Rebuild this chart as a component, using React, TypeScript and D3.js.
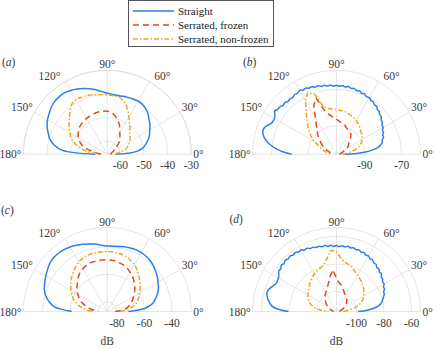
import React from 'react';
import * as d3 from 'd3';

// angle grids (degrees)
const anglesCoarse = [0,5,10,15,20,25,30,35,40,45,50,55,60,65,70,75,80,85,90,95,100,105,110,115,120,125,130,135,140,145,150,155,160,165,170,175,180];
const anglesFine = [0,2.5,5,7.5,10,12.5,15,17.5,20,22.5,25,27.5,30,32.5,35,37.5,40,42.5,45,47.5,50,52.5,55,57.5,60,62.5,65,67.5,70,72.5,75,77.5,80,82.5,85,87.5,90,92.5,95,97.5,100,102.5,105,107.5,110,112.5,115,117.5,120,122.5,125,127.5,130,132.5,135,137.5,140,142.5,145,147.5,150,152.5,155,157.5,160,162.5,165,167.5,170,172.5,175,177.5,180];
const thetaTicks = [0, 30, 60, 90, 120, 150, 180];

// (a)
const straightA = [-62.1,-53.7,-50.3,-48.6,-47.1,-45.8,-44.8,-43.5,-42.5,-41.2,-40.3,-39.7,-39.5,-39.7,-39.9,-40.1,-40.3,-40.1,-39.7,-38.9,-37.8,-36.8,-35.9,-35.1,-34.4,-33.8,-33.8,-34.0,-34.6,-35.5,-36.3,-37.4,-38.9,-40.3,-42.7,-46.5,-60.4];
const frozenA = [-64.2,-64.0,-63.8,-63.6,-63.4,-63.0,-62.1,-61.3,-60.0,-58.5,-57.3,-56.2,-54.9,-53.0,-51.3,-49.9,-48.6,-47.7,-47.3,-47.2,-47.2,-47.3,-47.5,-47.7,-48.0,-48.2,-48.6,-49.0,-49.7,-50.5,-51.3,-52.6,-54.1,-56.4,-59.4,-61.7,-63.4];
const nonFrozenA = [-62.1,-61.7,-60.0,-57.7,-56.4,-55.4,-54.5,-53.7,-53.0,-52.0,-50.7,-49.2,-47.3,-45.0,-42.9,-41.4,-40.8,-40.6,-40.4,-40.2,-39.9,-39.5,-39.2,-39.0,-38.9,-39.5,-41.2,-42.9,-44.4,-45.8,-47.3,-48.5,-50.3,-52.8,-55.6,-59.6,-62.1];
const ticksA = [-60, -50, -40, -30];

// (b)
const straightB = [-101.1,-94.6,-89.1,-84.8,-82.1,-80.7,-79.6,-79.4,-78.2,-78.2,-77.2,-77.2,-76.1,-76.1,-75.0,-74.8,-73.6,-73.6,-72.5,-72.5,-71.4,-71.5,-70.6,-70.7,-69.8,-70.1,-69.2,-69.5,-68.7,-69.0,-68.3,-68.7,-68.0,-68.5,-67.9,-68.4,-67.9,-68.3,-67.6,-68.0,-67.3,-67.6,-66.8,-67.1,-66.3,-66.5,-65.7,-66.0,-65.2,-66.0,-65.7,-66.4,-66.0,-66.4,-65.7,-66.0,-65.2,-65.2,-64.3,-65.7,-66.5,-66.5,-66.0,-64.6,-63.5,-63.4,-64.1,-65.4,-67.3,-69.8,-72.8,-76.6,-81.0];
const frozenB = [-103.9,-103.6,-103.3,-102.8,-101.7,-100.6,-99.0,-97.6,-96.8,-95.4,-93.5,-91.9,-91.3,-90.8,-90.0,-88.6,-88.3,-87.5,-86.4,-85.3,-83.7,-81.0,-72.8,-76.1,-82.6,-86.4,-89.1,-91.3,-93.5,-95.4,-97.3,-99.0,-100.6,-101.7,-102.8,-103.3,-103.9];
const nonFrozenB = [-102.2,-100.0,-97.3,-94.3,-92.1,-90.5,-89.4,-88.6,-87.8,-87.0,-85.9,-85.1,-84.0,-83.4,-82.9,-82.3,-81.5,-81.5,-81.2,-80.7,-80.1,-78.8,-70.6,-68.4,-71.7,-76.6,-80.4,-83.4,-86.1,-88.6,-91.6,-94.6,-96.8,-98.7,-100.6,-101.7,-102.8];
const ticksB = [-90, -70];

// (c)
const straightC = [-71.8,-59.4,-53.6,-50.7,-48.1,-46.0,-44.5,-42.7,-41.3,-39.8,-38.7,-38.0,-37.6,-37.6,-38.0,-38.3,-39.1,-39.4,-39.4,-38.7,-37.3,-36.2,-35.1,-34.0,-32.9,-32.2,-31.8,-31.8,-32.5,-34.0,-35.4,-36.9,-38.3,-40.5,-43.8,-48.5,-61.2];
const frozenC = [-81.2,-76.1,-72.8,-70.3,-68.5,-66.7,-64.9,-63.0,-60.9,-59.4,-57.2,-55.4,-54.0,-52.5,-51.4,-50.7,-50.0,-49.6,-49.6,-49.5,-49.4,-49.5,-49.6,-50.3,-51.3,-52.5,-54.3,-56.5,-58.3,-60.1,-62.3,-64.5,-67.0,-70.3,-73.9,-77.2,-80.5];
const nonFrozenC = [-77.6,-72.5,-68.8,-65.6,-63.4,-61.6,-60.1,-58.0,-55.8,-54.0,-51.8,-49.6,-47.8,-46.3,-44.9,-44.2,-43.8,-43.4,-43.4,-43.4,-43.4,-43.4,-43.8,-44.5,-45.6,-47.1,-48.9,-50.7,-52.5,-54.7,-56.5,-58.7,-60.9,-63.8,-67.0,-71.0,-76.8];
const ticksC = [-80, -60, -40];

// (d)
const straightD = [-98.9,-92.0,-87.3,-84.0,-81.8,-80.6,-79.6,-78.7,-77.5,-77.5,-76.0,-76.0,-74.6,-74.8,-73.5,-73.5,-72.0,-72.2,-70.9,-71.2,-69.8,-70.0,-68.8,-69.1,-68.0,-68.4,-67.3,-67.8,-66.9,-67.4,-66.6,-67.2,-66.4,-67.2,-66.5,-67.3,-66.6,-67.2,-66.2,-66.8,-65.8,-66.4,-65.5,-65.8,-64.8,-65.0,-63.8,-64.1,-62.9,-63.3,-62.2,-62.8,-61.9,-62.6,-61.9,-62.8,-62.2,-63.5,-63.3,-64.8,-65.8,-66.2,-66.2,-65.1,-63.7,-62.6,-62.2,-62.9,-64.0,-65.5,-67.3,-71.7,-79.6];
const frozenD = [-112.3,-112.0,-111.6,-110.9,-109.8,-108.7,-107.2,-106.2,-105.1,-104.0,-102.9,-102.2,-101.4,-100.3,-98.9,-97.1,-94.9,-93.4,-90.5,-84.0,-88.4,-92.7,-95.3,-97.4,-98.9,-100.0,-101.4,-102.9,-104.3,-105.8,-107.2,-108.3,-109.4,-110.5,-111.2,-112.0,-112.3];
const nonFrozenD = [-109.4,-106.5,-102.2,-98.2,-95.3,-93.1,-91.6,-90.2,-88.7,-87.6,-86.2,-85.1,-84.0,-82.5,-80.7,-79.3,-78.2,-76.0,-70.9,-69.8,-75.3,-79.3,-80.7,-81.5,-82.5,-84.0,-85.5,-86.9,-88.4,-89.4,-90.5,-91.6,-93.1,-95.3,-98.2,-102.5,-108.7];
const ticksD = [-100, -80, -60];

const legendNames = ['Straight', 'Serrated, frozen', 'Serrated, non-frozen'];

const W = 437;
const H = 349;
const R = 84;
const font = "'Liberation Serif', 'DejaVu Serif', serif";
const textColor = '#3a3a3a';
const gridColor = '#dedede';
const styles = [
  { stroke: '#2b80ea', dash: null },
  { stroke: '#de4a1e', dash: '6 4' },
  { stroke: '#eda623', dash: '5 2 1.5 2' },
];

const panels = [
  { tag: 'a', cx: 107.3, cy: 154.3, domain: [-65.5, -30], ticks: ticksA, lx: 2, ly: 62, unit: false,
    series: [[anglesCoarse, straightA], [anglesCoarse, frozenA], [anglesCoarse, nonFrozenA]], smooth: [true, true, true] },
  { tag: 'b', cx: 336.5, cy: 154.3, domain: [-105.5, -59.7], ticks: ticksB, lx: 243, ly: 62, unit: false,
    series: [[anglesFine, straightB], [anglesCoarse, frozenB], [anglesCoarse, nonFrozenB]], smooth: [true, false, false] },
  { tag: 'c', cx: 107.3, cy: 311.5, domain: [-87, -26], ticks: ticksC, lx: 1, ly: 209.5, unit: true,
    series: [[anglesCoarse, straightC], [anglesCoarse, frozenC], [anglesCoarse, nonFrozenC]], smooth: [true, true, true] },
  { tag: 'd', cx: 336.5, cy: 311.5, domain: [-114.5, -53.5], ticks: ticksD, lx: 229.5, ly: 218.5, unit: true,
    series: [[anglesFine, straightD], [anglesCoarse, frozenD], [anglesCoarse, nonFrozenD]], smooth: [true, false, false] },
];

const rad = (deg: number) => (deg * Math.PI) / 180;

function halfRing(rr: number) {
  const p = d3.path();
  p.arc(0, 0, rr, Math.PI, 2 * Math.PI);
  return p.toString();
}

function Panel({ p }: { p: any }) {
  const r = d3.scaleLinear().domain(p.domain).range([0, R]).clamp(true);

  const paths = p.series.map(([angs, vals]: [number[], number[]], i: number) => {
    const line = d3.lineRadial<number>()
      .angle((_, j) => rad(90 - angs[j]))
      .radius((v) => r(v))
      .curve(p.smooth[i] ? d3.curveCatmullRom.alpha(0.5) : d3.curveLinear);
    return line(vals);
  });

  const xNudge: Record<number, number> = { 60: 4, 120: -4 };

  return (
    <g transform={`translate(${p.cx},${p.cy})`}>
      {p.ticks.map((t: number) => (
        <path key={'ring' + t} d={halfRing(r(t))} fill="none" stroke={gridColor} strokeWidth={0.8} />
      ))}
      <path d={halfRing(R)} fill="none" stroke={gridColor} strokeWidth={0.8} />
      {thetaTicks.map((th) => (
        <line key={'sp' + th} x1={0} y1={0} x2={R * Math.cos(rad(th))} y2={-R * Math.sin(rad(th))}
          stroke={gridColor} strokeWidth={0.8} />
      ))}

      {paths.map((d: string, i: number) => (
        <path key={'s' + i} d={d} fill="none" stroke={styles[i].stroke} strokeWidth={1.5}
          strokeDasharray={styles[i].dash ?? undefined} strokeLinejoin="round" />
      ))}

      {thetaTicks.map((th) => {
        const c = Math.cos(rad(th));
        const s = Math.sin(rad(th));
        const x = (R + 2) * c + (xNudge[th] ?? 0);
        const y = -(R + 2) * s;
        const anchor = c > 0.1 ? 'start' : c < -0.1 ? 'end' : 'middle';
        return (
          <text key={'tl' + th} x={x} y={y} textAnchor={anchor}
            dominantBaseline={s < 0.01 ? 'central' : 'alphabetic'}
            fontSize={11.5} fontFamily={font} fill={textColor}>{th}°</text>
        );
      })}

      {p.ticks.map((t: number) => (
        <text key={'rl' + t} x={r(t)} y={11} textAnchor="middle" dominantBaseline="central"
          fontSize={11.5} fontFamily={font} fill={textColor}>{t}</text>
      ))}

      {p.unit && (
        <text x={0} y={29.5} textAnchor="middle" dominantBaseline="central"
          fontSize={11.5} fontFamily={font} fill={textColor}>dB</text>
      )}

      <text x={p.lx - p.cx} y={p.ly - p.cy} dominantBaseline="central" fontSize={11.5}
        fontFamily={font} fill={textColor}>
        (<tspan fontStyle="italic">{p.tag}</tspan>)
      </text>
    </g>
  );
}

function Legend() {
  const rows = [11, 25, 39];
  return (
    <g>
      <rect x={128.5} y={0.5} width={145} height={46} fill="#fff" stroke="#555" strokeWidth={1} />
      {legendNames.map((name, i) => (
        <g key={name}>
          <line x1={133} x2={174} y1={rows[i]} y2={rows[i]} stroke={styles[i].stroke} strokeWidth={1.5}
            strokeDasharray={styles[i].dash ?? undefined} />
          <text x={178} y={rows[i]} dominantBaseline="central" fontSize={11} fontFamily={font} fill="#222">{name}</text>
        </g>
      ))}
    </g>
  );
}

export default function App() {
  return (
    <svg width={W} height={H} viewBox={`0 0 ${W} ${H}`}
      style={{ position: 'absolute', left: 0, top: 0, background: '#fff' }}>
      {panels.map((p) => <Panel key={p.tag} p={p} />)}
      <Legend />
    </svg>
  );
}
